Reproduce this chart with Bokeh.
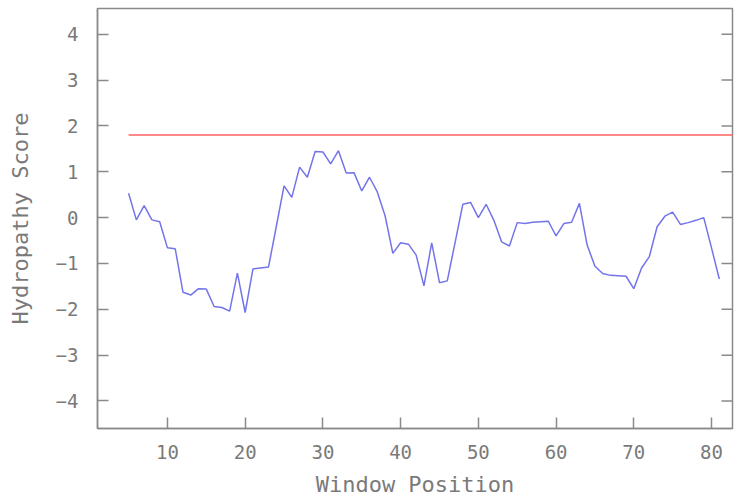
import math
from bokeh.plotting import figure
from bokeh.models import Range1d, FixedTicker
from bokeh.embed import file_html
from bokeh.resources import INLINE

# ---- data ----
positions = list(range(5, 82))
scores = [0.53, -0.05, 0.26, -0.05, -0.09, -0.66, -0.68, -1.63, -1.69, -1.55,
          -1.56, -1.94, -1.96, -2.04, -1.21, -2.07, -1.12, -1.10, -1.08, -0.20,
          0.69, 0.44, 1.10, 0.88, 1.44, 1.43, 1.17, 1.46, 0.97, 0.98,
          0.58, 0.88, 0.56, 0.04, -0.78, -0.55, -0.58, -0.82, -1.49, -0.55,
          -1.42, -1.38, -0.55, 0.29, 0.33, 0.00, 0.29, -0.06, -0.53, -0.62,
          -0.11, -0.13, -0.10, -0.09, -0.08, -0.40, -0.13, -0.10, 0.31, -0.60,
          -1.06, -1.22, -1.26, -1.27, -1.28, -1.55, -1.10, -0.85, -0.20, 0.03,
          0.12, -0.15, -0.11, -0.06, 0.00, -0.66, -1.34]
threshold_x = [5, 83]
threshold_y = [1.8, 1.8]
x_ticks = [10, 20, 30, 40, 50, 60, 70, 80]
y_ticks = [-4, -3, -2, -1, 0, 1, 2, 3, 4]
X_MIN, X_MAX = 1, 82.7
Y_MIN, Y_MAX = -4.6, 4.56

FONT = "DejaVu Sans Mono"
GRAY = "#8a8a8a"
TXT = "#7a7a7a"

p = figure(width=734, height=501, output_backend="svg", toolbar_location=None,
           x_range=Range1d(X_MIN, X_MAX), y_range=Range1d(Y_MIN, Y_MAX),
           min_border_left=97, min_border_right=2, min_border_top=8,
           min_border_bottom=73)
p.xgrid.visible = False
p.ygrid.visible = False
p.outline_line_color = GRAY
p.outline_line_width = 1.5
p.background_fill_color = "white"
p.border_fill_color = "white"

p.line(threshold_x, threshold_y, line_color="#ff6060", line_width=1.5)
p.line(positions, scores, line_color="#7474ea", line_width=1.5)

# inward ticks on the right edge of the frame
p.ray(x=[X_MAX] * len(y_ticks), y=y_ticks, length=11, length_units="screen",
      angle=math.pi, line_color=GRAY, line_width=1.5)

for ax in (p.xaxis[0], p.yaxis[0]):
    ax.axis_line_color = GRAY
    ax.axis_line_width = 1.5
    ax.major_tick_line_color = GRAY
    ax.major_tick_line_width = 1.5
    ax.major_tick_in = 11
    ax.major_tick_out = 0
    ax.minor_tick_line_color = None
    ax.major_label_text_font = FONT
    ax.major_label_text_font_size = "19px"
    ax.major_label_text_color = TXT
    ax.axis_label_text_font = FONT
    ax.axis_label_text_font_size = "22px"
    ax.axis_label_text_font_style = "normal"
    ax.axis_label_text_color = TXT

p.xaxis[0].ticker = FixedTicker(ticks=x_ticks)
p.yaxis[0].ticker = FixedTicker(ticks=y_ticks)
p.xaxis[0].axis_label = "Window Position"
p.yaxis[0].axis_label = "Hydropathy Score"
p.xaxis[0].major_label_standoff = 16
p.yaxis[0].major_label_standoff = 19
p.xaxis[0].axis_label_standoff = 10
p.yaxis[0].axis_label_standoff = 20

open("out.html", "w").write(file_html(p, INLINE))
